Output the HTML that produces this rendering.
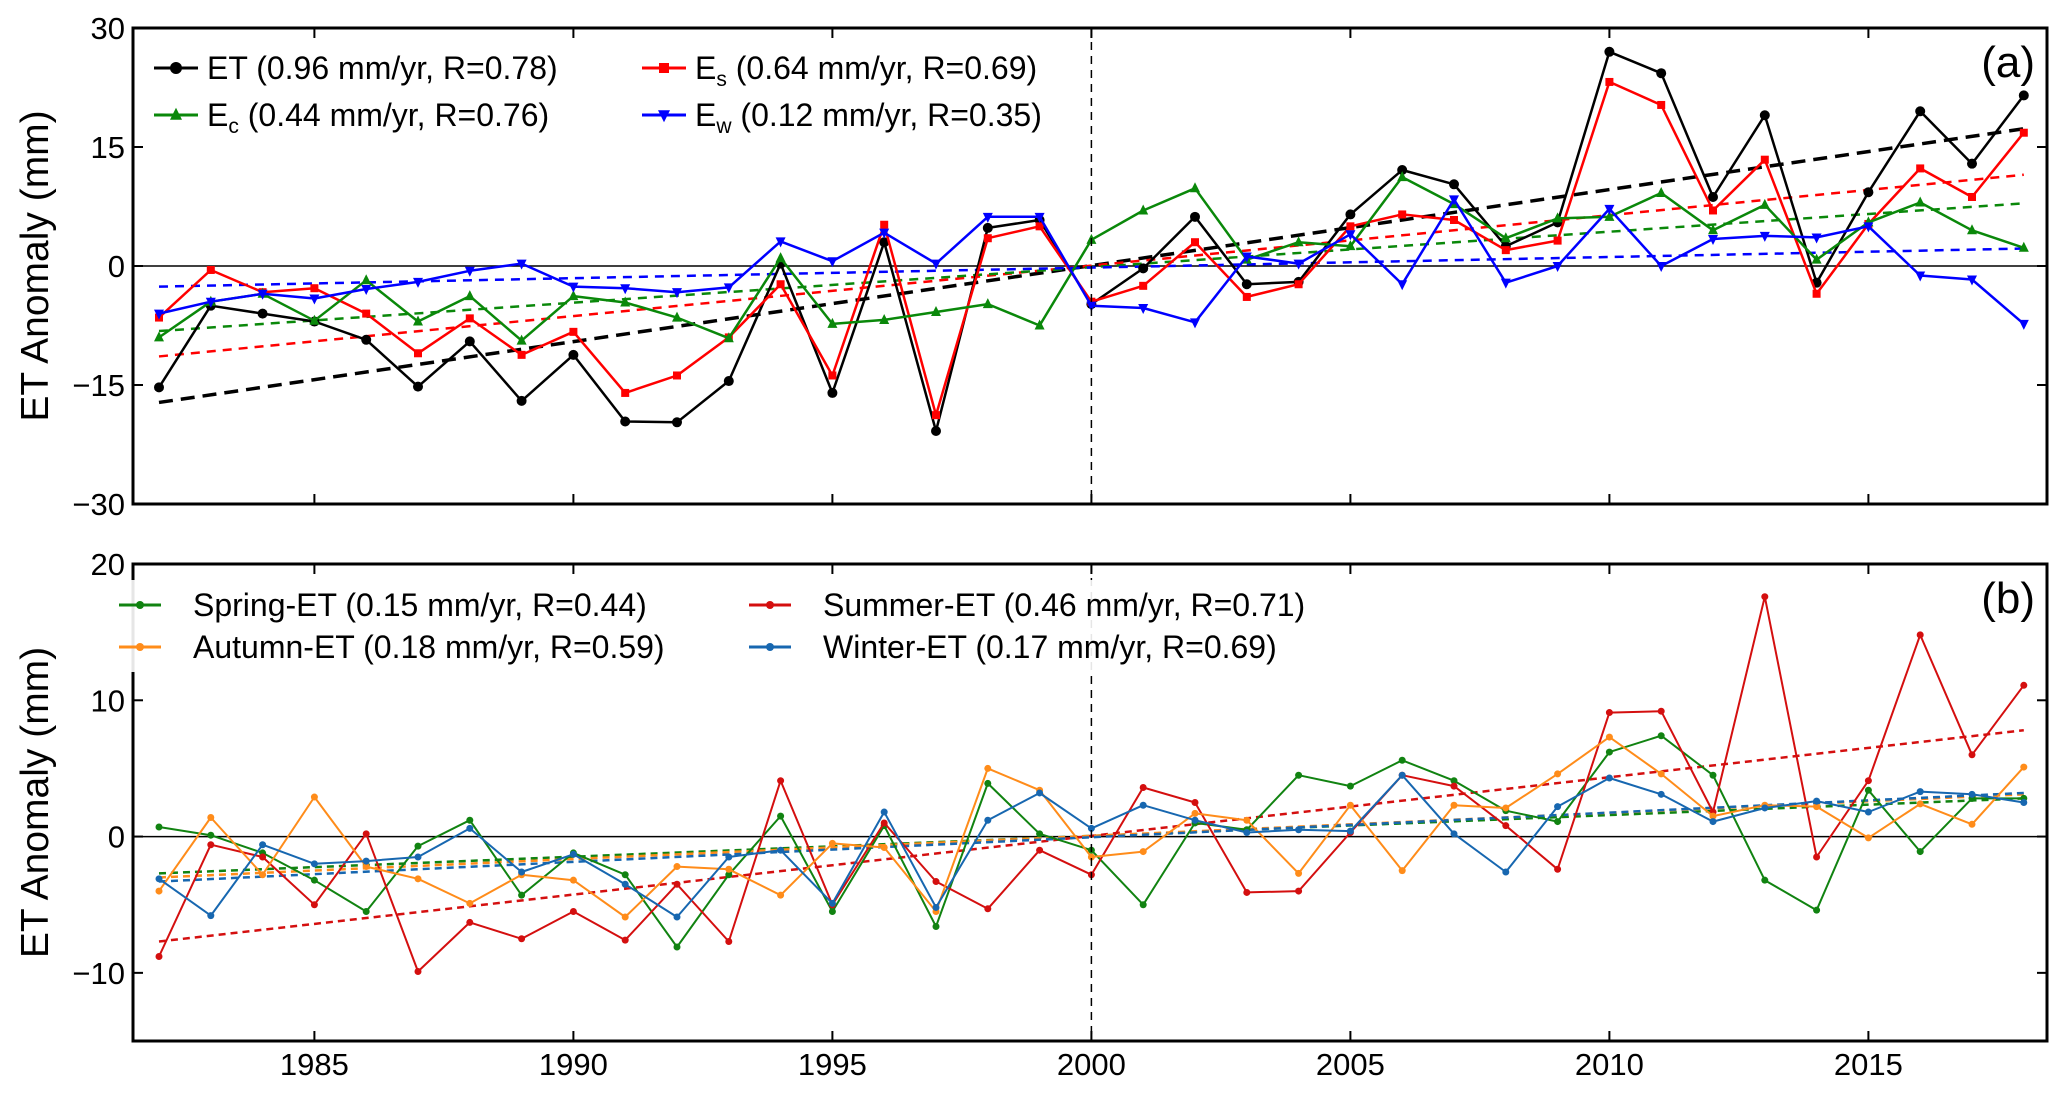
<!DOCTYPE html>
<html><head><meta charset="utf-8"><style>
html,body{margin:0;padding:0;background:#fff;}
svg{display:block;font-family:"Liberation Sans",sans-serif;}
</style></head><body>
<svg id="chart" width="2067" height="1096" viewBox="0 0 2067 1096" xmlns="http://www.w3.org/2000/svg"></svg>
<script>
const years = [];
for (let y = 1982; y <= 2018; y++) years.push(y);
const xTicks = [1985, 1990, 1995, 2000, 2005, 2010, 2015];
const yTicksA = [-30, -15, 0, 15, 30];
const yTicksB = [-10, 0, 10, 20];

const etA = [-15.3,-5,-6,-7,-9.3,-15.2,-9.5,-17,-11.2,-19.6,-19.7,-14.5,0.3,-16,3,-20.8,4.8,5.8,-4.8,-0.3,6.2,-2.3,-2,6.5,12.1,10.3,2.5,5.5,27,24.3,8.7,19,-2.1,9.3,19.5,12.9,21.5];
const esA = [-6.5,-0.5,-3.3,-2.8,-6,-11,-6.6,-11.2,-8.3,-16,-13.8,-9,-2.3,-13.8,5.2,-18.8,3.5,5,-4.5,-2.5,3,-3.9,-2.3,5,6.5,5.8,2,3.2,23.2,20.3,7,13.4,-3.5,5.3,12.3,8.7,16.8];
const ecA = [-9,-4.5,-3.5,-6.9,-1.8,-7,-3.8,-9.4,-3.8,-4.6,-6.5,-9.1,1,-7.3,-6.8,-5.8,-4.8,-7.5,3.3,7,9.8,0.8,3,2.5,11.2,7.8,3.5,6,6.2,9.2,4.5,7.7,0.8,5.5,8,4.5,2.3];
const ewA = [-6,-4.5,-3.5,-4.1,-2.9,-2,-0.6,0.3,-2.6,-2.8,-3.3,-2.7,3.1,0.6,4.2,0.3,6.2,6.2,-5,-5.3,-7.1,1.2,0.3,4,-2.3,8.4,-2.1,0,7.2,0,3.4,3.8,3.6,5,-1.2,-1.7,-7.3];
const trendStartA = [-17.2,-11.4,-8.2,-2.6];
const trendEndA = [17.3,11.5,7.9,2.2];

const springB = [0.7,0.1,-1.2,-3.2,-5.5,-0.7,1.2,-4.3,-1.2,-2.8,-8.1,-2.8,1.5,-5.5,0.8,-6.6,3.9,0.2,-1,-5,1,0.5,4.5,3.7,5.6,4.1,1.9,1.1,6.2,7.4,4.5,-3.2,-5.4,3.4,-1.1,2.8,2.8];
const summerB = [-8.8,-0.6,-1.5,-5,0.2,-9.9,-6.3,-7.5,-5.5,-7.6,-3.5,-7.7,4.1,-5,1,-3.3,-5.3,-1,-2.8,3.6,2.5,-4.1,-4,0.3,4.5,3.7,0.8,-2.4,9.1,9.2,1.8,17.6,-1.5,4.1,14.8,6,11.1];
const autumnB = [-4,1.4,-2.8,2.9,-2.2,-3.1,-4.9,-2.8,-3.2,-5.9,-2.2,-2.4,-4.3,-0.5,-0.8,-5.5,5,3.4,-1.5,-1.1,1.7,1.2,-2.7,2.3,-2.5,2.3,2.1,4.6,7.3,4.6,1.5,2.3,2.2,-0.1,2.4,0.9,5.1];
const winterB = [-3.1,-5.8,-0.6,-2,-1.8,-1.5,0.6,-2.6,-1.3,-3.5,-5.9,-1.5,-1,-4.9,1.8,-5.2,1.2,3.2,0.6,2.3,1.2,0.3,0.5,0.4,4.5,0.2,-2.6,2.2,4.3,3.1,1.1,2.1,2.6,1.8,3.3,3.1,2.5];
const trendStartB = [-2.7,-7.7,-3.0,-3.3];
const trendEndB = [2.8,7.8,3.1,3.2];

const svg = document.getElementById('chart');
const NS = 'http://www.w3.org/2000/svg';
function mk(tag, attrs, parent) {
  const e = document.createElementNS(NS, tag);
  for (const k in attrs) e.setAttribute(k, attrs[k]);
  (parent || svg).appendChild(e);
  return e;
}
const L = 133, R = 2047;
function xs(yr) { return 159 + (yr - 1982) * 51.8; }
const panA = {top: 28, bot: 504, min: -30, max: 30};
const panB = {top: 564, bot: 1041, min: -15, max: 20};
function yScale(p) { return v => p.bot - (v - p.min) / (p.max - p.min) * (p.bot - p.top); }
const ysA = yScale(panA), ysB = yScale(panB);

function marker(g, shape, x, y, color, s) {
  let e;
  if (shape === 'circle') e = mk('circle', {cx: x, cy: y, r: s, fill: color}, g);
  else if (shape === 'square') e = mk('rect', {x: x - s, y: y - s, width: 2 * s, height: 2 * s, fill: color}, g);
  else if (shape === 'tri') e = mk('polygon', {points: `${x},${y - s * 1.2} ${x - s},${y + s * 0.8} ${x + s},${y + s * 0.8}`, fill: color}, g);
  else e = mk('polygon', {points: `${x},${y + s * 1.2} ${x - s},${y - s * 0.8} ${x + s},${y - s * 0.8}`, fill: color}, g);
  
  
}

function drawPanel(p, ys, yTicks, name, label, seriesList, tStart, tEnd) {
  const g = mk('g', {});
  
  
  const z = mk('line', {x1: L, x2: R, y1: ys(0), y2: ys(0), stroke: '#000', 'stroke-width': 1.5}, g);
  
  
  seriesList.forEach((s, i) => {
    const t = mk('line', {x1: xs(years[0]), x2: xs(years[years.length - 1]), y1: ys(tStart[i]), y2: ys(tEnd[i]), stroke: s.color, 'stroke-width': s.trendW, 'stroke-dasharray': s.dash}, g);
    
    
  });
  seriesList.forEach(s => {
    const sg = mk('g', {}, g);
    
    
    const pts = s.data.map((v, i) => xs(years[i]).toFixed(1) + ',' + ys(v).toFixed(1)).join(' ');
    const pl = mk('polyline', {points: pts, fill: 'none', stroke: s.color, 'stroke-width': s.w, 'stroke-linejoin': 'round'}, sg);
    
    
    s.data.forEach((v, i) => marker(sg, s.shape, xs(years[i]), ys(v), s.color, s.ms));
  });
  const fr = mk('rect', {x: L, y: p.top, width: R - L, height: p.bot - p.top, fill: 'none', stroke: '#000', 'stroke-width': 3}, g);
  
  
  xTicks.forEach(t => {
    const x = xs(t);
    mk('line', {x1: x, x2: x, y1: p.top, y2: p.top + 10, stroke: '#000', 'stroke-width': 2}, g);
    const tb = mk('line', {x1: x, x2: x, y1: p.bot, y2: p.bot - 10, stroke: '#000', 'stroke-width': 2}, g);
    
    
  });
  yTicks.forEach(t => {
    const y = ys(t);
    mk('line', {x1: L, x2: L + 10, y1: y, y2: y, stroke: '#000', 'stroke-width': 2}, g);
    mk('line', {x1: R, x2: R - 10, y1: y, y2: y, stroke: '#000', 'stroke-width': 2}, g);
    const tl = mk('text', {x: L - 8, y: y + 11, 'text-anchor': 'end', 'font-size': 31}, g);
    tl.textContent = t < 0 ? '\u2212' + Math.abs(t) : String(t);
    
    
  });
  const yt = mk('text', {x: 0, y: 0, transform: `translate(48 ${(p.top + p.bot) / 2}) rotate(-90)`, 'text-anchor': 'middle', 'font-size': 39}, g);
  yt.textContent = 'ET Anomaly (mm)';
  
  
  const pl = mk('text', {x: 2035, y: p.top + 49, 'text-anchor': 'end', 'font-size': 44}, g);
  pl.textContent = label;
  
  
  return g;
}

const seriesA = [
  {id: 'et', data: etA, color: '#000000', shape: 'circle', ms: 5, w: 2.5, trendW: 3.5, dash: '14 8'},
  {id: 'es', data: esA, color: '#ff0000', shape: 'square', ms: 4, w: 2.5, trendW: 2.5, dash: '9 7'},
  {id: 'ec', data: ecA, color: '#0a880a', shape: 'tri', ms: 5, w: 2.5, trendW: 2.5, dash: '9 7'},
  {id: 'ew', data: ewA, color: '#0000ff', shape: 'down', ms: 5, w: 2.5, trendW: 2.5, dash: '9 7'}
];
const seriesB = [
  {id: 'spring', data: springB, color: '#118311', shape: 'circle', ms: 3.5, w: 2, trendW: 2.5, dash: '7 5'},
  {id: 'summer', data: summerB, color: '#d40f0f', shape: 'circle', ms: 3.5, w: 2, trendW: 2.5, dash: '7 5'},
  {id: 'autumn', data: autumnB, color: '#ff8c1a', shape: 'circle', ms: 3.5, w: 2, trendW: 2.5, dash: '7 5'},
  {id: 'winter', data: winterB, color: '#1767b0', shape: 'circle', ms: 3.5, w: 2, trendW: 2.5, dash: '7 5'}
];
drawPanel(panA, ysA, yTicksA, 'panel-a', '(a)', seriesA, trendStartA, trendEndA);
drawPanel(panB, ysB, yTicksB, 'panel-b', '(b)', seriesB, trendStartB, trendEndB);

[panA, panB].forEach(p => {
  const v = mk('line', {x1: xs(2000), x2: xs(2000), y1: p.top, y2: p.bot, stroke: '#000', 'stroke-width': 1.5, 'stroke-dasharray': '8 6'});
  
  
});

xTicks.forEach(t => {
  const tl = mk('text', {x: xs(t), y: 1075, 'text-anchor': 'middle', 'font-size': 31});
  tl.textContent = String(t);
  
  
});

function legendEntry(x1, x2, tx, y, color, shape, ms, html, name) {
  const g = mk('g', {});
  
  
  mk('line', {x1: x1, x2: x2, y1: y, y2: y, stroke: color, 'stroke-width': 3}, g);
  marker(g, shape, (x1 + x2) / 2, y, color, ms);
  const t = mk('text', {x: tx, y: y + 11, 'font-size': 32}, g);
  t.innerHTML = html;
}
const bgA = mk('rect', {x: 145, y: 42, width: 920, height: 100, fill: '#fff'});


legendEntry(154, 198, 207, 68, '#000', 'circle', 6, 'ET (0.96 mm/yr, R=0.78)', 'legend-entry-et');
legendEntry(642, 686, 695, 68, '#ff0000', 'square', 5, 'E<tspan dy="7" font-size="21">s</tspan><tspan dy="-7"> (0.64 mm/yr, R=0.69)</tspan>', 'legend-entry-es');
legendEntry(154, 198, 207, 115, '#0a880a', 'tri', 6, 'E<tspan dy="7" font-size="21">c</tspan><tspan dy="-7"> (0.44 mm/yr, R=0.76)</tspan>', 'legend-entry-ec');
legendEntry(642, 686, 695, 115, '#0000ff', 'down', 6, 'E<tspan dy="7" font-size="21">w</tspan><tspan dy="-7"> (0.12 mm/yr, R=0.35)</tspan>', 'legend-entry-ew');

const bgB = mk('rect', {x: 112, y: 580, width: 1180, height: 92, fill: '#fff', opacity: 0.9});


legendEntry(119, 161, 193, 605, '#118311', 'circle', 4, 'Spring-ET (0.15 mm/yr, R=0.44)', 'legend-entry-spring');
legendEntry(749, 791, 823, 605, '#d40f0f', 'circle', 4, 'Summer-ET (0.46 mm/yr, R=0.71)', 'legend-entry-summer');
legendEntry(119, 161, 193, 647, '#ff8c1a', 'circle', 4, 'Autumn-ET (0.18 mm/yr, R=0.59)', 'legend-entry-autumn');
legendEntry(749, 791, 823, 647, '#1767b0', 'circle', 4, 'Winter-ET (0.17 mm/yr, R=0.69)', 'legend-entry-winter');
</script>
</body></html>
